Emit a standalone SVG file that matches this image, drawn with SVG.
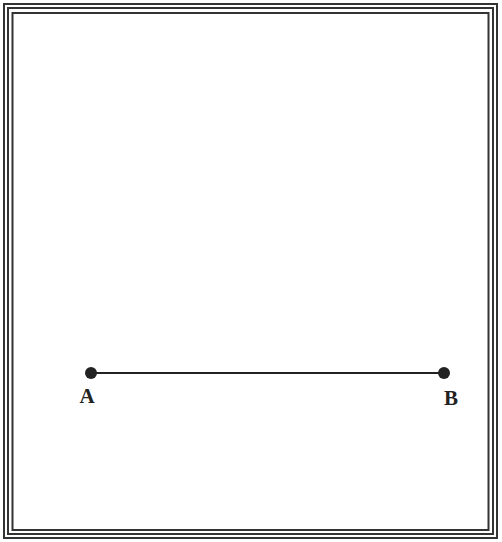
<svg xmlns="http://www.w3.org/2000/svg" width="502" height="542" viewBox="0 0 502 542">
<style>
.frame{fill:none;stroke:#333;stroke-width:2}
.dot{fill:#222}
.lbl{font-family:"Liberation Serif",serif;font-weight:bold;font-size:21px;fill:#222;text-anchor:middle}
</style>
<rect width="502" height="542" fill="#fff"/>
<g id="frame">
<rect class="frame" x="4" y="4" width="493" height="534"/>
<rect class="frame" x="8" y="8" width="485" height="526" stroke-width="1.5"/>
<rect class="frame" x="12.5" y="13" width="476" height="517" stroke-width="1.5" stroke="#555"/>
</g>
<g id="connectors">
<line x1="91" y1="373" x2="444" y2="373" stroke="#222" stroke-width="1.8"/>
</g>
<g id="A">
<circle class="dot" cx="91" cy="373" r="6"/>
<text class="lbl" x="87" y="403">A</text>
</g>
<g id="B">
<circle class="dot" cx="444" cy="373" r="6"/>
<text class="lbl" x="451" y="405">B</text>
</g>
</svg>
